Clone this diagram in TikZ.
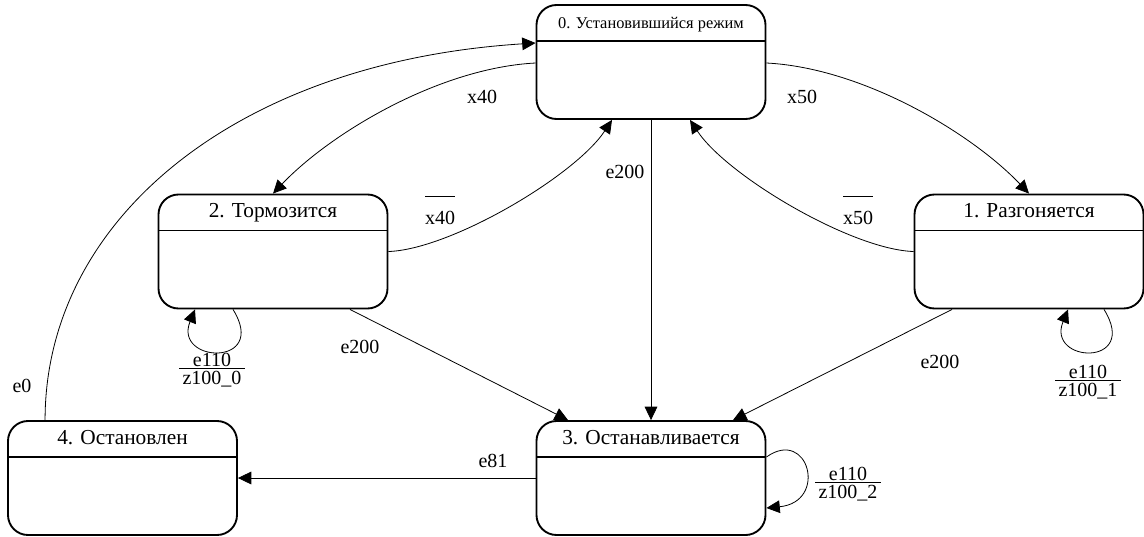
\documentclass[tikz,border=0pt]{standalone}
\usepackage{fontspec}
\setmainfont{Liberation Serif}
\usetikzlibrary{arrows.meta,calc}

% negated input and "event / action" pair on a transition
\newcommand\nega[1]{$\overline{\mbox{\rule{0pt}{20pt}#1}}$}
\newcommand\evact[2]{\begin{tabular}{@{\,}c@{\,}}#1\\[-4.5pt]\hline\rule{0pt}{12pt}#2\end{tabular}}

\begin{document}
\begin{tikzpicture}[
    x=0.75pt, y=-0.75pt,
    line join=round, >={Triangle[length=10pt,width=9.5pt]},
    every node/.style={font=\fontsize{15}{17}\selectfont},
    state/.style={draw, line width=1.4pt, rounded corners=15pt,
        minimum width=171.75pt, minimum height=85.5pt, inner sep=0pt,
        path picture={\draw[line width=1.2pt]
            ([yshift=-27pt]path picture bounding box.north west) --
            ([yshift=-27pt]path picture bounding box.north east);}},
    statename/.style={anchor=base, yshift=-18pt, font=\fontsize{16}{18}\selectfont},
    edge/.style={draw, line width=0.6pt}
]
    \useasboundingbox (0,0) rectangle (1144,536);

    % states of the drive
    \node[state, label={[statename, font=\fontsize{12.3}{14}\selectfont]north:0. Установившийся режим}] (s0) at (651,62) {};
    \node[state, label={[statename]north:1. Разгоняется}] (s1) at (1029,251.5) {};
    \node[state, label={[statename]north:2. Тормозится}] (s2) at (273,251.5) {};
    \node[state, label={[statename]north:3. Останавливается}] (s3) at (651,478) {};
    \node[state, label={[statename]north:4. Остановлен}] (s4) at (122.5,478) {};

    % transitions
    \draw[edge,->] ($(s4.north west)+(38,0)$) .. controls +(0,-200) and +(-300,19) .. ($(s0.west)+(0,-19)$);
    \draw[edge,->] ($(s0.west)+(0,1)$) .. controls +(-97,5) and +(57,-60) .. (s2.north);
    \draw[edge,->] (s2.east) .. controls +(62,-2) and +(-37,56) .. ($(s0.south)+(-39,0)$);
    \draw[edge,->] ($(s0.east)+(0,1)$) .. controls +(97,5) and +(-57,-60) .. (s1.north);
    \draw[edge,->] (s1.west) .. controls +(-62,-2) and +(37,56) .. ($(s0.south)+(39,0)$);
    \draw[edge,->] (s0.south) -- (s3.north);
    \draw[edge,->] ($(s2.south)+(77,0)$) -- ($(s3.north)+(-83,0)$);
    \draw[edge,->] ($(s1.south)+(-77,0)$) -- ($(s3.north)+(82,0)$);
    \draw[edge,->] (s3.west) -- (s4.east);

    % self loops
    \draw[edge,->] ($(s2.south)+(-40,0)$) .. controls +(36,58) and +(-22,54) .. ($(s2.south)+(-78,0)$);
    \draw[edge,->] ($(s1.south)+(75,0)$) .. controls +(36,58) and +(-22,54) .. ($(s1.south)+(39,0)$);
    \draw[edge,->] ($(s3.east)+(0,-21)$) .. controls +(42,-30) and +(62,-6) .. ($(s3.east)+(0,30)$);

    % labels
    \node (l40) at (22,386) {e0};
    \node (l02) at (482,97) {x40};
    \node (l20) at (440,210) {\nega{x40}};
    \node (l01) at (802,97) {x50};
    \node (l10) at (858,210) {\nega{x50}};
    \node (l03) at (625,172) {e200};
    \node (l23) at (360,347) {e200};
    \node (l13) at (940,362) {e200};
    \node (l34) at (493,461) {e81};
    \node (l22) at (212,371) {\evact{e110}{z100\_0}};
    \node (l11) at (1088,383) {\evact{e110}{z100\_1}};
    \node (l33) at (848,485) {\evact{e110}{z100\_2}};
\end{tikzpicture}
\end{document}
